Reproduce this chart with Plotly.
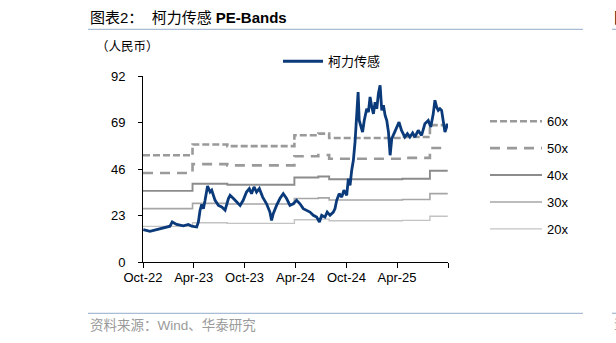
import plotly.graph_objects as go

# ---------------- data ----------------
price_dates = [
    "2022-10-02", "2022-10-26", "2022-11-19", "2022-12-13", "2023-01-06", "2023-01-14",
    "2023-01-30", "2023-02-23", "2023-03-13", "2023-03-25", "2023-04-12", "2023-04-18",
    "2023-04-24", "2023-04-30", "2023-05-06", "2023-05-12", "2023-05-21", "2023-05-30",
    "2023-06-05", "2023-06-17", "2023-06-29", "2023-07-11", "2023-07-23", "2023-08-04",
    "2023-08-10", "2023-08-22", "2023-09-03", "2023-09-15", "2023-09-26", "2023-10-08",
    "2023-10-18", "2023-10-26", "2023-11-04", "2023-11-13", "2023-11-23", "2023-12-05",
    "2023-12-19", "2023-12-31", "2024-01-06", "2024-01-12", "2024-01-24", "2024-02-05",
    "2024-02-17", "2024-02-29", "2024-03-12", "2024-03-24", "2024-04-05", "2024-04-17",
    "2024-04-29", "2024-05-11", "2024-05-23", "2024-06-04", "2024-06-16", "2024-06-26",
    "2024-07-04", "2024-07-16", "2024-07-24", "2024-08-03", "2024-08-15", "2024-08-21",
    "2024-08-27", "2024-09-05", "2024-09-14", "2024-09-22", "2024-10-02", "2024-10-08",
    "2024-10-14", "2024-10-20", "2024-10-26", "2024-11-01", "2024-11-07", "2024-11-12",
    "2024-11-16", "2024-11-22", "2024-11-28", "2024-12-04", "2024-12-13", "2024-12-19",
    "2024-12-25", "2024-12-31", "2025-01-06", "2025-01-12", "2025-01-18", "2025-01-24",
    "2025-01-30", "2025-02-05", "2025-02-11", "2025-02-17", "2025-02-23", "2025-03-01",
    "2025-03-07", "2025-03-13", "2025-03-21", "2025-03-30", "2025-04-08", "2025-04-17",
    "2025-04-29", "2025-05-08", "2025-05-17", "2025-05-27", "2025-06-04", "2025-06-16",
    "2025-06-28", "2025-07-10", "2025-07-22", "2025-07-31", "2025-08-09", "2025-08-15",
    "2025-08-21", "2025-08-27", "2025-09-02", "2025-09-08", "2025-09-14", "2025-09-20",
    "2025-09-26", "2025-09-30",
]
price_values = [
    16.0, 15.2, 16.0, 16.8, 17.7, 19.8,
    18.6, 17.9, 18.6, 17.7, 17.3, 19.8,
    25.6, 28.5, 26.4, 30.5, 37.6, 34.6,
    35.5, 30.5, 28.0, 27.2, 25.6, 31.4,
    33.0, 31.4, 29.7, 28.0, 30.5, 34.6,
    36.3, 33.8, 37.1, 34.6, 36.3, 32.1,
    28.8, 24.7, 20.6, 23.9, 28.0, 31.4,
    33.8, 31.4, 28.0, 28.8, 30.5, 28.8,
    26.4, 25.5, 24.7, 23.1, 22.2, 19.8,
    23.1, 22.2, 24.7, 23.1, 24.7, 26.4,
    30.5, 33.8, 32.1, 35.5, 33.0, 41.2,
    37.9, 45.4, 50.3, 59.4, 71.7, 84.1,
    70.0, 67.6, 64.3, 70.0, 75.8, 74.2,
    81.6, 76.7, 73.3, 79.1, 75.8, 83.3,
    87.4, 75.0, 77.5, 72.5, 70.0, 64.3,
    52.8, 61.0, 63.5, 66.8, 69.2, 65.1,
    61.8, 63.5, 61.8, 63.8, 61.8, 65.1,
    62.6, 68.4, 70.0, 66.8, 73.3, 80.0,
    76.7, 75.0, 75.8, 75.0, 68.4, 64.3,
    66.8, 68.4,
]

band_dates = ["2022-10-01", "2023-03-28", "2023-07-31", "2024-03-28", "2024-06-22",
              "2024-07-31", "2025-04-20", "2025-07-28", "2025-09-30"]
band_60x = [52.8, 58.1, 57.3, 62.7, 63.5, 61.3, 61.8, 67.7, 67.7]
band_50x = [44.0, 48.4, 47.8, 52.3, 52.9, 51.1, 51.5, 56.4, 56.4]
band_40x = [35.2, 38.7, 38.2, 41.8, 42.3, 40.9, 41.2, 45.1, 45.1]
band_30x = [26.4, 29.0, 28.7, 31.4, 31.7, 30.7, 30.9, 33.8, 33.8]
band_20x = [17.6, 19.4, 19.1, 20.9, 21.2, 20.4, 20.6, 22.6, 22.6]
band_names = ["60x", "50x", "40x", "30x", "20x"]
series_name = "柯力传感"

y_ticks = [0, 23, 46, 69, 92]
x_tick_dates = ["2022-10-01", "2023-04-01", "2023-10-01", "2024-04-01",
                "2024-10-01", "2025-04-01", "2025-10-01"]
x_tick_labels = ["Oct-22", "Apr-23", "Oct-23", "Apr-24", "Oct-24", "Apr-25", ""]

title_text = "图表2：  柯力传感 <b>PE-Bands</b>"
unit_text = "（人民币）"
source_text = "资料来源：Wind、华泰研究"

# ---------------- layout geometry (px) ----------------
W, H = 616, 343
PL, PR = 143, 448
PT, PB = 75.7, 261.7


def fx(px):
    return (px - PL) / (PR - PL)


def fy(py):
    return (PB - py) / (PB - PT)


LATIN = "Liberation Sans, Arial, sans-serif"
CJK = "Liberation Sans, Noto Sans CJK SC, sans-serif"

band_values = [band_60x, band_50x, band_40x, band_30x, band_20x]
band_styles = [
    dict(color="#9a9a9a", width=2.6, dash="7px,3px"),
    dict(color="#9a9a9a", width=2.6, dash="10px,7px"),
    dict(color="#8c8c8c", width=1.9),
    dict(color="#a6a6a6", width=1.6),
    dict(color="#c3c3c3", width=1.4),
]

fig = go.Figure()
for name, vals, st in zip(band_names, band_values, band_styles):
    fig.add_trace(go.Scatter(
        x=band_dates, y=vals, name=name, mode="lines",
        line=dict(shape="hv", **st), legend="legend2", legendgroup=name,
        hoverinfo="skip",
    ))

fig.add_trace(go.Scatter(
    x=price_dates, y=price_values, name=series_name, mode="lines",
    line=dict(color="#0a3a7a", width=2.8), legend="legend",
))

fig.update_layout(
    width=W, height=H,
    margin=dict(l=PL, r=W - PR, t=PT, b=H - PB, pad=0),
    paper_bgcolor="white", plot_bgcolor="white",
    font=dict(family=LATIN, size=13, color="#000000"),
    showlegend=True,
    legend=dict(
        x=fx(278), y=fy(46), xanchor="left", yanchor="top",
        orientation="h", itemwidth=40, bgcolor="rgba(0,0,0,0)",
        font=dict(family=CJK, size=13, color="#000"),
    ),
    legend2=dict(
        x=fx(485), y=fy(106), xanchor="left", yanchor="top",
        orientation="v", itemwidth=52, tracegroupgap=7, traceorder="grouped",
        bgcolor="rgba(0,0,0,0)",
        font=dict(family=LATIN, size=13, color="#000"),
    ),
    xaxis=dict(
        type="date", range=["2022-10-01", "2025-10-01"],
        tickmode="array", tickvals=x_tick_dates, ticktext=x_tick_labels,
        showgrid=False, zeroline=False, showline=True, linecolor="#000", linewidth=1,
        ticks="outside", ticklen=5, tickcolor="#000", tickwidth=1,
        ticklabelstandoff=-2,
        tickfont=dict(family=LATIN, size=13, color="#000"),
    ),
    yaxis=dict(
        range=[0, 92], tickmode="array", tickvals=y_ticks,
        showgrid=False, zeroline=False, showline=True, linecolor="#000", linewidth=1,
        ticks="outside", ticklen=4, tickcolor="#000", tickwidth=1,
        ticklabelstandoff=10,
        tickfont=dict(family=LATIN, size=13, color="#000"),
    ),
)

annotations = [
    dict(text=title_text, x=fx(88), y=fy(17), xanchor="left", yanchor="middle",
         font=dict(family=CJK, size=15, color="#000")),
    dict(text=unit_text, x=fx(94), y=fy(47), xanchor="left", yanchor="middle",
         font=dict(family=CJK, size=12.5, color="#000")),
    dict(text=source_text, x=fx(88), y=fy(325), xanchor="left", yanchor="middle",
         font=dict(family=CJK, size=13.5, color="#9a9a9a")),
    dict(text="图", x=fx(612), y=fy(17), xanchor="left", yanchor="middle",
         font=dict(family=CJK, size=15, color="#000")),
    dict(text="资", x=fx(612), y=fy(325), xanchor="left", yanchor="middle",
         font=dict(family=CJK, size=12, color="#9a9a9a")),
]
for a in annotations:
    a.update(xref="paper", yref="paper", showarrow=False)
fig.update_layout(annotations=annotations)

rule_color = "#a9bcd5"
shapes = []
for yy in (29, 313):
    shapes.append(dict(type="line", xref="paper", yref="paper",
                       x0=fx(88), x1=fx(583), y0=fy(yy), y1=fy(yy),
                       line=dict(color=rule_color, width=1.3)))
    shapes.append(dict(type="line", xref="paper", yref="paper",
                       x0=fx(612), x1=fx(620), y0=fy(yy), y1=fy(yy),
                       line=dict(color=rule_color, width=1.3)))
fig.update_layout(shapes=shapes)

fig.write_html("out.html")
